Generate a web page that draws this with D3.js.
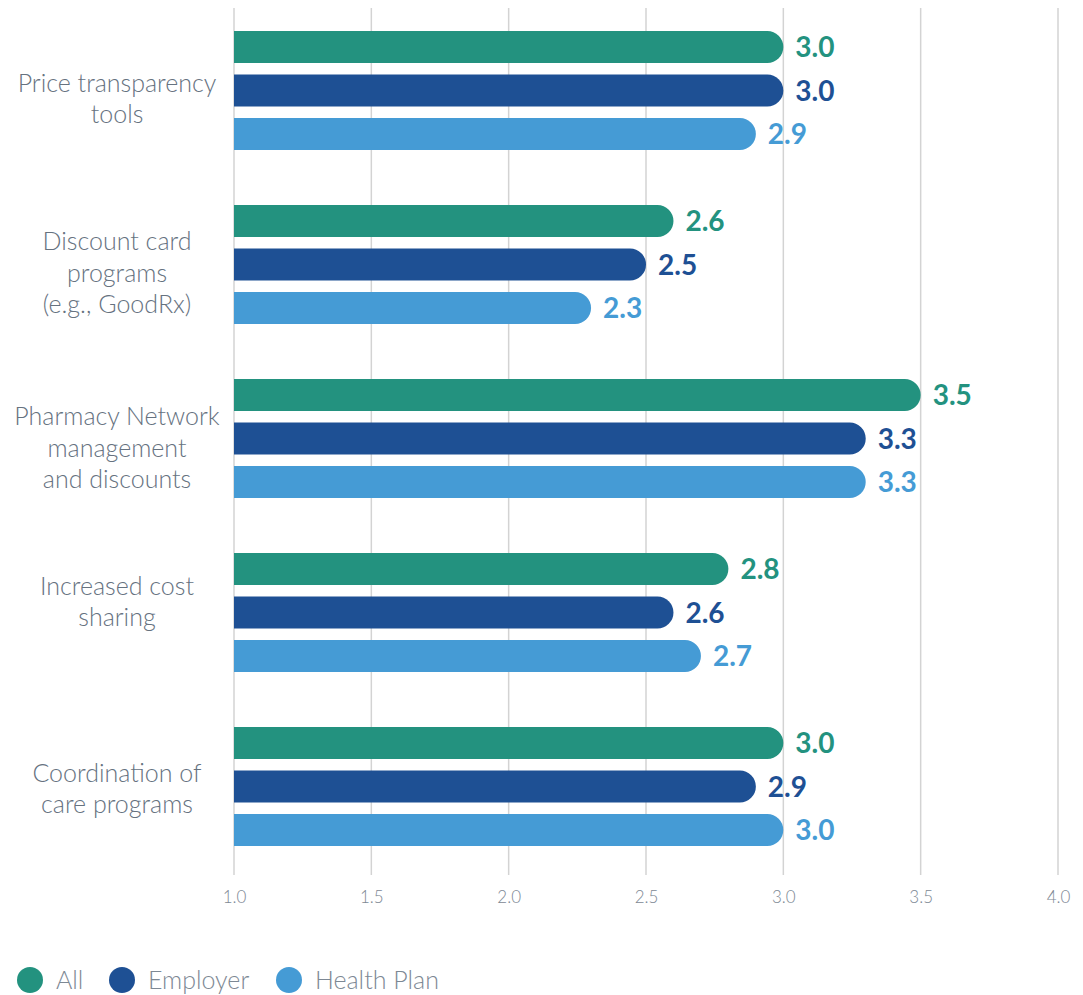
<!DOCTYPE html>
<html>
<head>
<meta charset="utf-8">
<script src="https://cdn.jsdelivr.net/npm/d3@7"></script>
<style>
  html, body { margin: 0; padding: 0; background: #fff; }
  svg { display: block; }
  text { font-family: "Source Sans Pro", Lato, "Noto Sans", sans-serif; }
</style>
</head>
<body>
<svg id="chart" width="1083" height="995"></svg>
<script>
const categories = [
  ["Price transparency", "tools"],
  ["Discount card", "programs", "(e.g., GoodRx)"],
  ["Pharmacy Network", "management", "and discounts"],
  ["Increased cost", "sharing"],
  ["Coordination of", "care programs"]
];
const seriesNames = ["All", "Employer", "Health Plan"];
const allValues = [3.0, 2.6, 3.5, 2.8, 3.0];
const employerValues = [3.0, 2.5, 3.3, 2.6, 2.9];
const healthPlanValues = [2.9, 2.3, 3.3, 2.7, 3.0];
const tickValues = [1.0, 1.5, 2.0, 2.5, 3.0, 3.5, 4.0];

// layout / style
const colors = ["#23927f", "#1e5094", "#459bd5"];
const labelShift = [8, 8.5, 9.5, -11, 2];
const legendX = [30, 122, 289];

const series = [allValues, employerValues, healthPlanValues];

const svg = d3.select("#chart");
const x = d3.scaleLinear().domain([1, 4]).range([234, 1058]);
const y = d3.scaleBand().domain(d3.range(categories.length)).range([3.5, 873.5]).padding(0);
const inner = d3.scaleBand().domain(d3.range(3)).range([0, 119]).paddingInner(0.2644).paddingOuter(0);
const groupOffset = (y.bandwidth() - 119) / 2;

// grid lines
const grid = svg.append("g");
grid.selectAll("line").data(tickValues).join("line")
  .attr("x1", d => x(d)).attr("x2", d => x(d))
  .attr("y1", 8).attr("y2", 875)
  .attr("stroke", "#d3d3d3").attr("stroke-width", 1.5);

// x axis labels
const axis = d3.axisBottom(x).tickValues(tickValues).tickFormat(d3.format(".1f")).tickSize(0).tickPadding(0);
const ax = svg.append("g").attr("transform", "translate(0,897)").call(axis);
ax.select(".domain").remove();
ax.selectAll("text").attr("fill", "#7d8894").attr("font-size", 17).attr("font-weight", 300)
  .attr("y", 0).attr("dy", "0.35em").attr("font-family", '"Source Sans Pro", Lato, "Noto Sans", sans-serif');

function barPath(x0, x1, top, h) {
  const r = h / 2;
  const xe = Math.max(x0, x1 - r);
  return `M${x0},${top}H${xe}A${r},${r} 0 0 1 ${xe},${top + h}H${x0}Z`;
}

const bars = svg.append("g");
categories.forEach((cat, i) => {
  series.forEach((vals, s) => {
    const top = y(i) + groupOffset + inner(s);
    const h = inner.bandwidth();
    bars.append("path")
      .attr("d", barPath(x(1), x(vals[i]), top, h))
      .attr("fill", colors[s]);
    bars.append("text")
      .attr("x", x(vals[i]) + 12)
      .attr("y", top + h / 2)
      .attr("dy", "0.36em")
      .attr("fill", colors[s])
      .attr("font-size", 28)
      .attr("font-weight", 700)
      .text(d3.format(".1f")(vals[i]));
  });
  // category label
  const cy = y(i) + y.bandwidth() / 2 + labelShift[i];
  const lh = 31.5;
  const t = svg.append("text")
    .attr("text-anchor", "middle")
    .attr("fill", "#66727f")
    .attr("font-size", 25)
    .attr("font-weight", 300);
  cat.forEach((line, k) => {
    t.append("tspan")
      .attr("x", 117)
      .attr("y", cy + (k - (cat.length - 1) / 2) * lh)
      .attr("dy", "0.35em")
      .text(line);
  });
});

// legend
const lg = svg.append("g");
seriesNames.forEach((name, s) => {
  lg.append("circle").attr("cx", legendX[s]).attr("cy", 980).attr("r", 13).attr("fill", colors[s]);
  lg.append("text").attr("x", legendX[s] + 26).attr("y", 980).attr("dy", "0.35em")
    .attr("fill", "#7d8894").attr("font-size", 25).attr("font-weight", 300).text(name);
});
</script>
</body>
</html>
